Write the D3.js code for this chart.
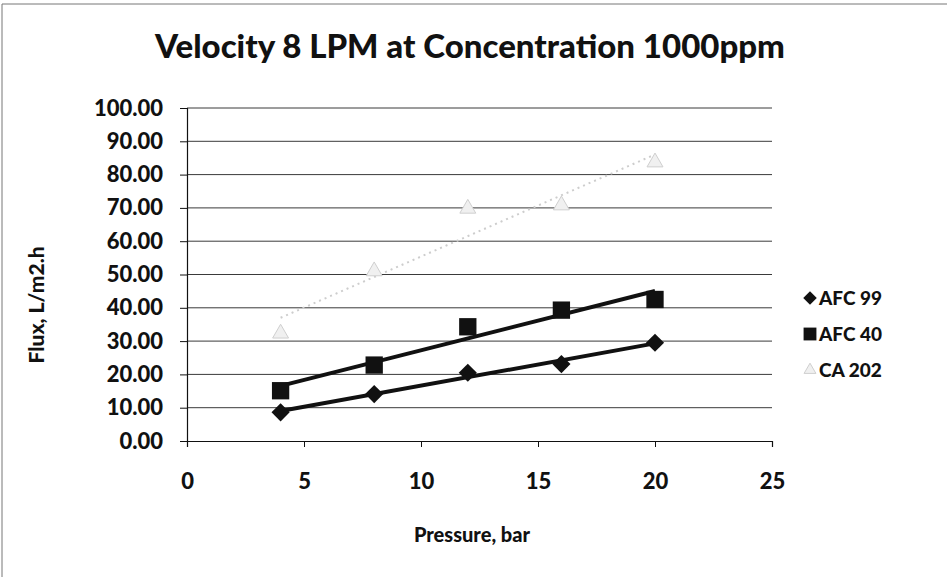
<!DOCTYPE html>
<html>
<head>
<meta charset="utf-8">
<script src="https://cdn.jsdelivr.net/npm/d3@7"></script>
<style>
  html, body { margin: 0; padding: 0; background: #fff; }
  svg { display: block; font-family: Lato, "Open Sans", sans-serif; }
</style>
</head>
<body>
<svg id="chart" width="947" height="577"></svg>
<script>
// Pressure values (bar) shared by all membranes
const pressure = [4, 8, 12, 16, 20];
// Flux (L/m2.h) per membrane
const afc99 = [8.6, 14.1, 20.5, 23.1, 29.5];
const afc40 = [15.1, 22.8, 34.3, 39.3, 42.5];
const ca202 = [32.3, 51.0, 69.8, 70.8, 83.7];
const seriesNames = ["AFC 99", "AFC 40", "CA 202"];
const xTicks = [0, 5, 10, 15, 20, 25];
const yTicks = [0, 10, 20, 30, 40, 50, 60, 70, 80, 90, 100];
const titleText = "Velocity 8 LPM at Concentration 1000ppm";
const xTitle = "Pressure, bar";
const yTitle = "Flux, L/m2.h";

const series = [
  { name: seriesNames[0], values: afc99, shape: d3.symbolSquare, rotate: 45, fill: "#111", stroke: "none", size: 165,
    trend: { stroke: "#111", width: 4, dash: null } },
  { name: seriesNames[1], values: afc40, shape: d3.symbolSquare, rotate: 0, fill: "#111", stroke: "none", size: 300,
    trend: { stroke: "#111", width: 4, dash: null } },
  { name: seriesNames[2], values: ca202, shape: d3.symbolTriangle, rotate: 0, fill: "#f0f0f0", stroke: "#cfcfcf", size: 110,
    trend: { stroke: "#cdcdcd", width: 2, dash: "2,4" } }
];

const svg = d3.select("#chart");
const heavy = 900;

// chart frame
svg.append("line").attr("x1", 2).attr("x2", 947).attr("y1", 4).attr("y2", 4)
  .attr("stroke", "#777").attr("stroke-width", 1);
svg.append("line").attr("x1", 2).attr("x2", 2).attr("y1", 4).attr("y2", 577)
  .attr("stroke", "#777").attr("stroke-width", 1);

const plot = { left: 187, right: 772, top: 108, bottom: 441 };
const x = d3.scaleLinear().domain([0, 25]).range([plot.left, plot.right]);
const y = d3.scaleLinear().domain([0, 100]).range([plot.bottom, plot.top]);

// horizontal gridlines
svg.append("g").selectAll("line").data(yTicks.filter(t => t > 0)).join("line")
  .attr("x1", plot.left).attr("x2", plot.right)
  .attr("y1", d => y(d)).attr("y2", d => y(d))
  .attr("stroke", "#3a3a3a").attr("stroke-width", 1);

// y axis
const yAxis = svg.append("g").attr("transform", `translate(${plot.left},0)`)
  .call(d3.axisLeft(y).tickValues(yTicks).tickFormat(d3.format(".2f")).tickSize(7).tickPadding(17));
yAxis.select(".domain").attr("stroke", "#111").attr("stroke-width", 1.2);
yAxis.selectAll(".tick line").attr("stroke", "#111");
yAxis.selectAll("text").attr("font-size", 22).attr("font-weight", heavy).attr("fill", "#111")
  .attr("font-family", "Lato, sans-serif");

// x axis
const xAxis = svg.append("g").attr("transform", `translate(0,${plot.bottom})`)
  .call(d3.axisBottom(x).tickValues(xTicks).tickFormat(d3.format("d")).tickSize(6).tickPadding(26));
xAxis.select(".domain").attr("stroke", "#111").attr("stroke-width", 1.2);
xAxis.selectAll(".tick line").attr("stroke", "#111");
xAxis.selectAll("text").attr("font-size", 22).attr("font-weight", heavy).attr("fill", "#111")
  .attr("font-family", "Lato, sans-serif");

// least-squares trendline for each series
function fit(xs, ys) {
  const mx = d3.mean(xs), my = d3.mean(ys);
  const sxy = d3.sum(xs, (v, i) => (v - mx) * (ys[i] - my));
  const sxx = d3.sum(xs, v => (v - mx) * (v - mx));
  const slope = sxy / sxx;
  return { slope, intercept: my - slope * mx };
}

const line = d3.line().x(d => x(d[0])).y(d => y(d[1]));

series.slice().reverse().forEach(s => {
  const f = fit(pressure, s.values);
  const ends = d3.extent(pressure).map(p => [p, f.intercept + f.slope * p]);
  svg.append("path").datum(ends)
    .attr("d", line).attr("fill", "none")
    .attr("stroke", s.trend.stroke).attr("stroke-width", s.trend.width)
    .attr("stroke-dasharray", s.trend.dash);
});

series.slice().reverse().forEach(s => {
  svg.append("g").selectAll("path").data(pressure.map((p, i) => [p, s.values[i]])).join("path")
    .attr("transform", d => `translate(${x(d[0])},${y(d[1])}) rotate(${s.rotate})`)
    .attr("d", d3.symbol().type(s.shape).size(s.size))
    .attr("fill", s.fill).attr("stroke", s.stroke);
});

// title
svg.append("text").attr("x", 470).attr("y", 58).attr("text-anchor", "middle")
  .attr("font-size", 33).attr("font-weight", heavy).attr("fill", "#111").text(titleText);

// axis titles
svg.append("text").attr("x", 472).attr("y", 542).attr("text-anchor", "middle")
  .attr("font-size", 20).attr("font-weight", heavy).attr("fill", "#111").text(xTitle);
svg.append("text").attr("transform", "translate(44,305) rotate(-90)").attr("text-anchor", "middle")
  .attr("font-size", 21).attr("font-weight", heavy).attr("fill", "#111").text(yTitle);

// legend
const legend = svg.append("g").attr("transform", "translate(810,298)");
series.forEach((s, i) => {
  const g = legend.append("g").attr("transform", `translate(0,${i * 36})`);
  g.append("path").attr("transform", `rotate(${s.rotate})`)
    .attr("d", d3.symbol().type(s.shape).size(s.size * 0.55))
    .attr("fill", s.fill).attr("stroke", s.stroke);
  g.append("text").attr("x", 9).attr("y", 7).attr("font-size", 19).attr("font-weight", heavy)
    .attr("fill", "#111").text(s.name);
});
</script>
</body>
</html>
